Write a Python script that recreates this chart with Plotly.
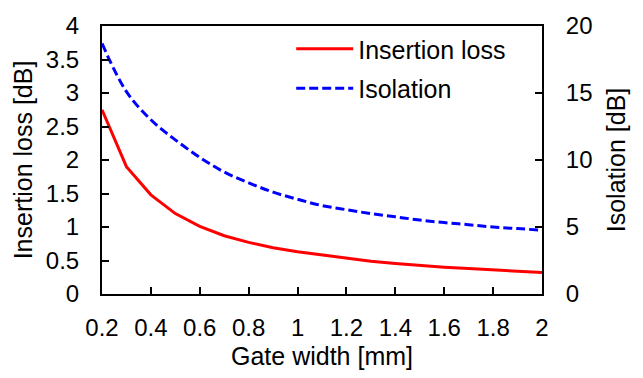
import plotly.graph_objects as go

# Gate width sweep [mm]
gate_width = [0.2, 0.3, 0.4, 0.5, 0.6, 0.7, 0.8, 0.9, 1.0, 1.1,
              1.2, 1.3, 1.4, 1.5, 1.6, 1.7, 1.8, 1.9, 2.0]

# Insertion loss [dB]
insertion_loss = [2.75, 1.90, 1.48, 1.20, 1.01, 0.87, 0.77, 0.69, 0.63, 0.58,
                  0.53, 0.49, 0.455, 0.425, 0.40, 0.38, 0.36, 0.34, 0.32]

# Isolation [dB]
isolation = [18.7, 15.1, 13.0, 11.5, 10.2, 9.1, 8.3, 7.6, 7.07, 6.6,
             6.29, 6.0, 5.76, 5.52, 5.33, 5.17, 5.0, 4.88, 4.76]

x_ticks = [0.2, 0.4, 0.6, 0.8, 1.0, 1.2, 1.4, 1.6, 1.8, 2.0]
x_ticktext = ["0.2", "0.4", "0.6", "0.8", "1", "1.2", "1.4", "1.6", "1.8", "2"]
il_ticks = [0, 0.5, 1, 1.5, 2, 2.5, 3, 3.5, 4]
il_ticktext = ["0", "0.5", "1", "1.5", "2", "2.5", "3", "3.5", "4"]
iso_ticks = [0, 5, 10, 15, 20]

FONT = "Liberation Sans, Arial, sans-serif"
TICK_FS = 24
TITLE_FS = 25

fig = go.Figure()
fig.add_trace(go.Scatter(
    x=gate_width, y=insertion_loss, name="Insertion loss",
    mode="lines", line=dict(color="#ff0000", width=3),
    legendgroup="a",
))
fig.add_trace(go.Scatter(
    x=gate_width, y=isolation, name="Isolation", yaxis="y2",
    mode="lines", line=dict(color="#0000ff", width=3, dash="9px,4px", shape="spline"),
    legendgroup="b",
))

axis_common = dict(
    showgrid=False, zeroline=False, showline=True, linecolor="black", linewidth=2,
    ticks="inside", ticklen=7, tickwidth=2, tickcolor="black",
    tickfont=dict(family=FONT, size=TICK_FS, color="black"),
)

fig.update_layout(
    width=643, height=378,
    margin=dict(l=102, r=101, t=14, b=84),
    paper_bgcolor="white", plot_bgcolor="white",
    font=dict(family=FONT, size=TICK_FS, color="black"),
    xaxis=dict(
        range=[0.2, 2.0], tickvals=x_ticks, ticktext=x_ticktext,
        mirror=True, ticklabelstandoff=11,
        title=dict(text="Gate width [mm]", font=dict(family=FONT, size=TITLE_FS), standoff=8),
        **axis_common,
    ),
    yaxis=dict(
        range=[0, 4], tickvals=il_ticks, ticktext=il_ticktext,
        ticklabelstandoff=16,
        title=dict(text="Insertion loss [dB]", font=dict(family=FONT, size=TITLE_FS), standoff=6),
        **axis_common,
    ),
    yaxis2=dict(
        range=[0, 20], tickvals=iso_ticks, overlaying="y", side="right",
        ticklabelstandoff=17,
        title=dict(text="Isolation [dB]", font=dict(family=FONT, size=TITLE_FS), standoff=16),
        **axis_common,
    ),
    legend=dict(
        x=0.43, y=1.0, xanchor="left", yanchor="top",
        bgcolor="rgba(0,0,0,0)", itemwidth=57, tracegroupgap=4,
        font=dict(family=FONT, size=TITLE_FS, color="black"),
    ),
    showlegend=True,
)

fig.write_html("out.html")
